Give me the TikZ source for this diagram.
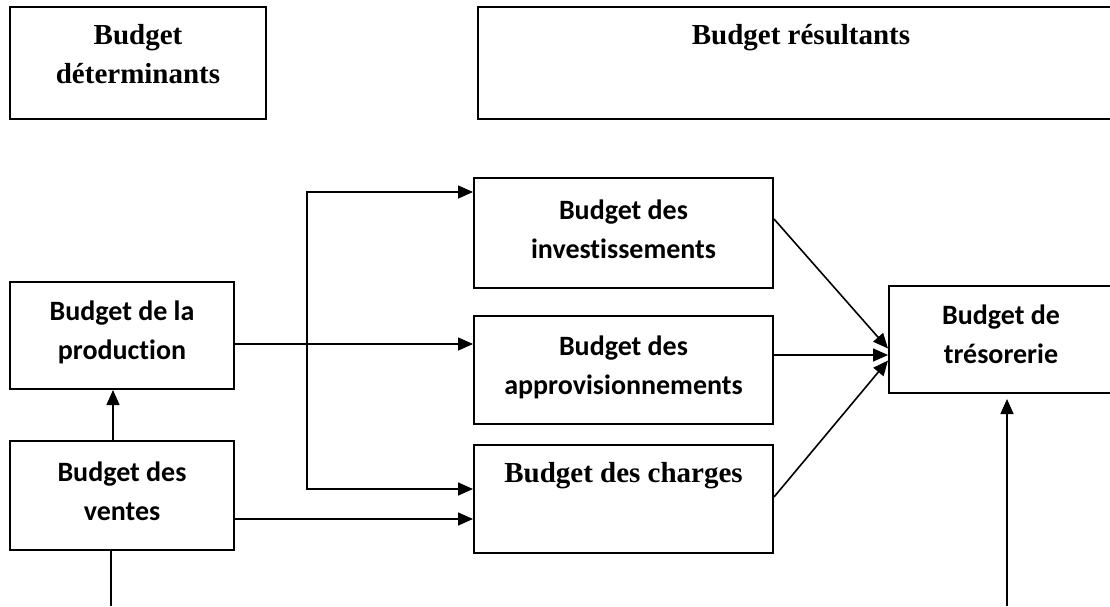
\documentclass[tikz,border=0pt]{standalone}
\usepackage{fontspec}
\setmainfont{Liberation Serif}
\newfontfamily\calibri[Ligatures=NoCommon]{Carlito}
\usepackage{tikz}
\usetikzlibrary{positioning, arrows.meta}
\tikzset{
  >={Triangle[length=15pt, width=13pt]},
  box/.style={draw, line width=2pt, inner sep=0pt, align=center},
  sansbox/.style={box, font=\calibri\bfseries\fontsize{28}{39}\selectfont, text depth=30pt},
  serifbox/.style={box, font=\bfseries\fontsize{29}{39}\selectfont},
  link/.style={line width=1.6pt},
}

\begin{document}
\begin{tikzpicture}[x=1pt, y=-1pt]
  \useasboundingbox (0,0) rectangle (1110,606);
  \clip (0,0) rectangle (1110,606);

  % boxes
  \node[serifbox, anchor=north west, minimum width=256pt, text height=76pt, text depth=36pt] (det) at (9,6) {Budget\\déterminants};
  \node[serifbox, right=210pt of det, minimum width=646pt, text height=37pt, text depth=75pt] (res) {Budget résultants};
  \node[sansbox, anchor=north west, minimum width=224pt, text height=77pt] (prod) at (9,281) {Budget de la\\production};
  \node[sansbox, below=50pt of prod, minimum width=224pt, text height=79pt] (vent) {Budget des\\ventes};
  \node[sansbox, anchor=north west, minimum width=299pt, text height=80pt] (inv) at (473,177) {Budget des\\investissements};
  \node[sansbox, below=26pt of inv, minimum width=299pt, text height=78pt] (appro) {Budget des\\approvisionnements};
  \node[serifbox, below=19pt of appro, minimum width=299pt, text height=37pt, text depth=71pt] (charg) {Budget des charges};
  \node[sansbox, anchor=north west, minimum width=224pt, text height=77pt] (treso) at (888,285) {Budget de\\trésorerie};

  % arrows
  \coordinate (top) at (307,192);
  \coordinate (bot) at (307,489);
  \coordinate (vout) at (111,606);
  \coordinate (tin) at (1007,606);
  \coordinate (p1) at ([yshift=-8.5pt]prod.east);
  \coordinate (v1) at ([yshift=-23.5pt]vent.east);
  \coordinate (i1) at ([yshift=14pt]inv.east);
  \coordinate (a1) at ([yshift=15pt]appro.east);
  \coordinate (c1) at ([yshift=2pt]charg.east);

  \draw[link, ->] ([xshift=-9pt]vent.north) -- ([xshift=-9pt]prod.south);
  \draw[link] (vout |- vent.south) -- (vout);
  \draw[link, ->] (p1) -- (p1 -| appro.west);
  \draw[link, <->] (top -| inv.west) -- (top) -- (bot) -- (bot -| charg.west);
  \draw[link, ->] (v1) -- (v1 -| charg.west);
  \draw[link, ->] (i1) -- ([yshift=-9pt]treso.west);
  \draw[link, ->] (a1) -- (a1 -| treso.west);
  \draw[link, ->] (c1) -- ([yshift=-21pt]treso.west);
  \draw[link, ->, shorten >=5pt] (tin) -- (tin |- treso.south);
\end{tikzpicture}
\end{document}
